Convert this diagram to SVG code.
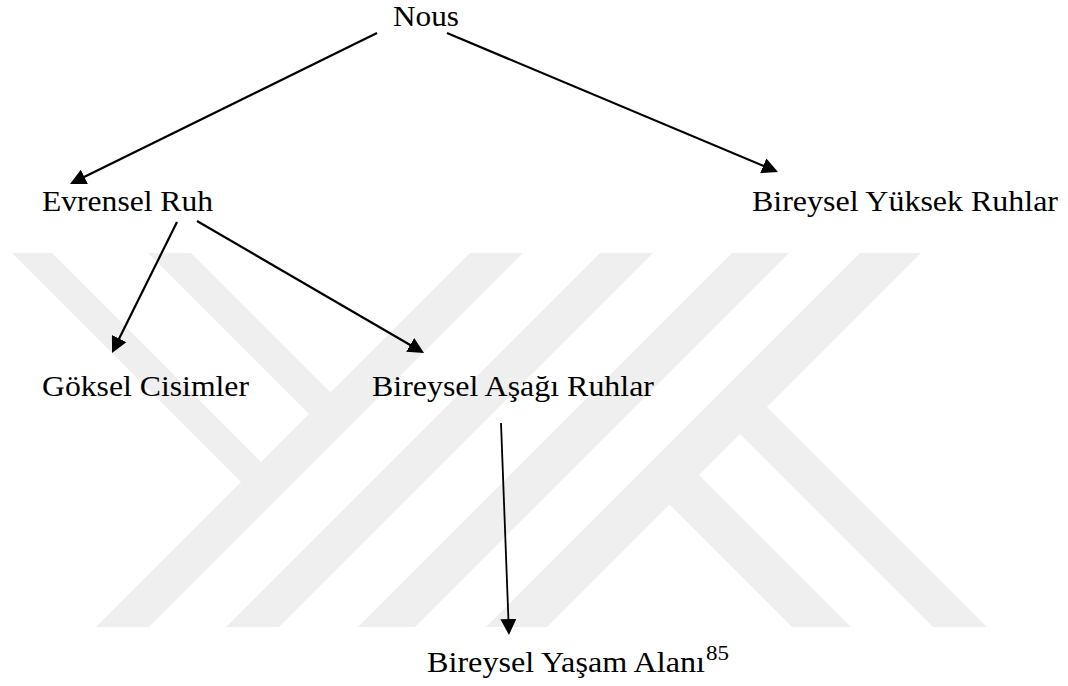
<svg xmlns="http://www.w3.org/2000/svg" width="1068" height="686" viewBox="0 0 1068 686">
  <defs>
    <style>
      .lbl { font-family: 'Liberation Serif', 'DejaVu Serif', serif; font-size: 29px; fill: #000; }
      .sup { font-family: 'Liberation Serif', 'DejaVu Serif', serif; font-size: 20px; fill: #000; }
      .wm { fill: #efefef; stroke: none; }
      .edge { stroke: #000; stroke-width: 2.2; fill: none; marker-end: url(#arrow); }
    </style>
    <marker id="arrow" markerUnits="userSpaceOnUse" markerWidth="16" markerHeight="16" refX="6" refY="8" orient="auto" viewBox="0 0 16 16">
      <path d="M0,0 L16,8 L0,16 z" fill="#000"/>
    </marker>
  </defs>
  <rect width="1068" height="686" fill="#fff"/>

  <g id="watermark">
    <polygon class="wm" points="470,253 523,253 149,627 96,627"/>
    <polygon class="wm" points="600,253 653,253 279,627 226,627"/>
    <polygon class="wm" points="732,253 789,253 415,627 358,627"/>
    <polygon class="wm" points="860,253 921,253 547,627 486,627"/>
    <polygon class="wm" points="12,253 52,253 274.5,475.5 254.5,495.5"/>
    <polygon class="wm" points="148,253 191,253 344,406 322.5,427.5"/>
    <polygon class="wm" points="728,422 755,395 987,627 933,627"/>
    <polygon class="wm" points="657.5,492.5 687,463 851,627 792,627"/>
  </g>

  <g id="connectors">
    <line class="edge" x1="377" y1="33" x2="78.97" y2="179.59"/>
    <line class="edge" x1="447" y1="33" x2="768.78" y2="168.13"/>
    <line class="edge" x1="177" y1="222" x2="116.45" y2="344.04"/>
    <line class="edge" x1="197" y1="221" x2="415.36" y2="347.97"/>
    <line class="edge" style="stroke-width:1.8" x1="501" y1="423" x2="508.62" y2="625.01"/>
  </g>

  <g id="node-nous">
    <text class="lbl" x="393" y="26" textLength="66" lengthAdjust="spacingAndGlyphs">Nous</text>
  </g>
  <g id="node-evrensel-ruh">
    <text class="lbl" x="42" y="211" textLength="171" lengthAdjust="spacingAndGlyphs">Evrensel Ruh</text>
  </g>
  <g id="node-bireysel-yuksek-ruhlar">
    <text class="lbl" x="752" y="211" textLength="306" lengthAdjust="spacingAndGlyphs">Bireysel Yüksek Ruhlar</text>
  </g>
  <g id="node-goksel-cisimler">
    <text class="lbl" x="42" y="396" textLength="207" lengthAdjust="spacingAndGlyphs">Göksel Cisimler</text>
  </g>
  <g id="node-bireysel-asagi-ruhlar">
    <text class="lbl" x="372" y="396" textLength="282" lengthAdjust="spacingAndGlyphs">Bireysel Aşağı Ruhlar</text>
  </g>
  <g id="node-bireysel-yasam-alani">
    <text class="lbl" x="427" y="672" textLength="278" lengthAdjust="spacingAndGlyphs">Bireysel Yaşam Alanı</text>
    <text class="sup" x="706" y="660" textLength="23" lengthAdjust="spacingAndGlyphs">85</text>
  </g>
</svg>
